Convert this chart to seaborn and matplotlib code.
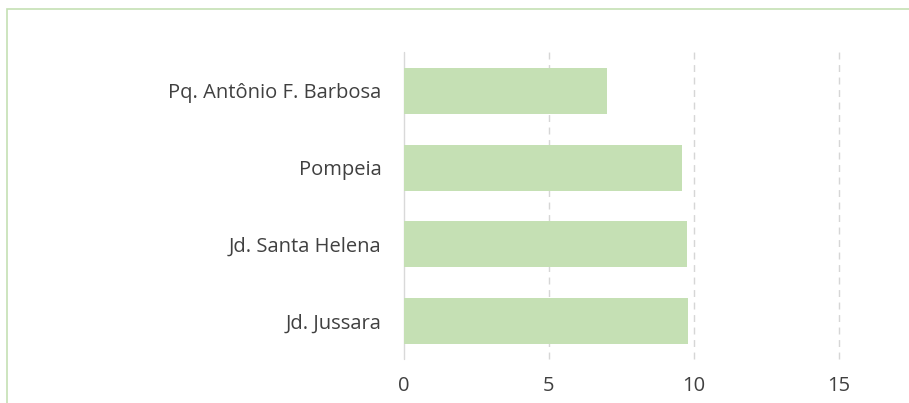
import matplotlib
matplotlib.use("Agg")
import pandas as pd
import seaborn as sns
import matplotlib.pyplot as plt
from matplotlib.patches import Rectangle

# Data
bairros = ["Pq. Antônio F. Barbosa", "Pompeia", "Jd. Santa Helena", "Jd. Jussara"]
valores = [7.0, 9.6, 9.75, 9.8]
ticks_x = [0, 5, 10, 15]

df = pd.DataFrame({"Bairro": bairros, "Valor": valores})

sns.set_theme(style="white")
plt.rcParams["font.family"] = ["Open Sans", "DejaVu Sans"]

fig = plt.figure(figsize=(9.09, 4.03), dpi=100)
ax = fig.add_axes([0.4444, 0.108, 0.4785, 0.7618])

sns.barplot(data=df, x="Valor", y="Bairro", color="#c5e0b4",
            saturation=1, width=0.6, linewidth=0, ax=ax, zorder=3)

ax.set_xlim(0, 15)
ax.set_ylim(3.5, -0.5)
ax.set_xticks(ticks_x)
ax.set_xlabel("")
ax.set_ylabel("")

# dashed vertical grid, solid line at zero
for t in ticks_x[1:]:
    ax.axvline(t, color="#d6d6d6", lw=1, ls=(0, (5, 4)), zorder=1, clip_on=False)
ax.axvline(0, color="#d9d9d9", lw=1, zorder=1, clip_on=False)

for s in ax.spines.values():
    s.set_visible(False)

ax.tick_params(axis="y", length=0, pad=16, labelsize=14.5, labelcolor="#404040")
ax.tick_params(axis="x", length=0, pad=12, labelsize=14.5, labelcolor="#404040")

# outer chart border (cropped at right and bottom)
fig.patches.append(Rectangle((7 / 909, -0.1), 1.2, 1 - 9 / 403 + 0.1,
                             transform=fig.transFigure, fill=False,
                             edgecolor="#c5e0b4", lw=1.2))

plt.savefig("out.png", dpi=100)
